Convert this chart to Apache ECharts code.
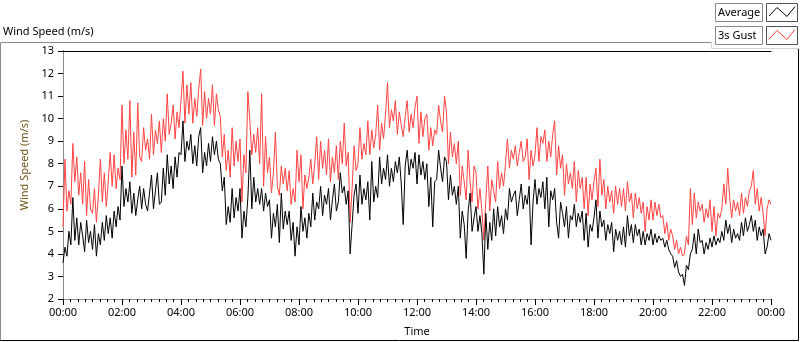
<!DOCTYPE html>
<html>
<head>
<meta charset="utf-8">
<title>Wind Speed</title>
<script src="https://cdn.jsdelivr.net/npm/echarts@6/dist/echarts.min.js"></script>
<style>
  html, body { margin: 0; padding: 0; background: #fff; }
  #chart { width: 800px; height: 342px; }
</style>
</head>
<body>
<div id="chart"></div>
<script>
// one sample every 4 minutes, from 00:00 to 24:00 (361 points)
var sampleStep = 4

// 1 min average wind speed (m/s), one row = 20 minutes
var avgSpeed = [
  3.6, 4.3, 3.9, 5.0, 4.4,
  6.5, 4.6, 5.6, 4.4, 5.4,
  4.8, 4.1, 5.5, 4.5, 5.0,
  4.2, 5.3, 3.9, 4.9, 4.4,
  5.4, 4.6, 5.7, 4.9, 5.6,
  4.7, 5.9, 5.2, 6.1, 5.5,
  7.9, 6.1, 6.9, 6.3, 7.2,
  5.8, 6.7, 5.7, 6.4, 7.0,
  6.0, 6.9, 6.2, 5.9, 6.7,
  7.5, 6.0, 6.8, 7.6, 6.2,
  6.3, 7.8, 6.6, 8.4, 7.1,
  7.9, 6.9, 8.3, 7.4, 8.5,
  8.4, 9.9, 8.1, 9.0, 8.6,
  9.3, 8.0, 8.8, 7.9, 9.2,
  9.6, 7.6, 8.5, 7.9, 8.9,
  8.1, 9.2, 8.4, 9.0, 8.2,
  8.0, 6.8, 7.4, 5.3, 6.1,
  5.4, 6.9, 5.6, 6.5, 5.9,
  6.9, 4.7, 5.9, 5.2, 6.5,
  8.6, 6.0, 7.4, 6.3, 6.9,
  6.2, 6.9, 5.9, 6.7, 6.1,
  6.4, 4.7, 5.8, 5.2, 6.2,
  4.5, 6.7, 5.1, 5.9, 5.3,
  5.9, 4.6, 5.4, 3.9, 5.2,
  4.4, 6.1, 5.0, 5.6, 4.7,
  5.8, 5.2, 6.7, 5.5, 6.3,
  6.0, 7.0, 5.7, 6.6, 6.2,
  6.9, 5.5, 6.4, 7.1, 5.9,
  6.3, 7.6, 6.7, 7.0, 6.2,
  6.8, 4.0, 5.3, 6.6, 7.1,
  5.8, 7.5, 6.2, 6.9, 6.4,
  7.2, 5.5, 8.1, 6.3, 7.0,
  6.5, 8.3, 7.1, 7.8, 7.3,
  8.4, 7.0, 7.8, 7.2, 8.1,
  7.6, 8.3, 7.1, 5.3, 7.9,
  8.6, 7.5, 8.2, 7.8, 8.5,
  7.1, 8.4, 7.5, 8.1, 7.3,
  8.0, 6.1, 7.4, 5.2, 7.2,
  7.3, 8.6, 7.8, 7.2, 8.3,
  8.1, 6.4, 7.5, 6.6, 7.0,
  6.2, 7.0, 4.7, 5.9, 5.3,
  3.8, 5.9, 6.7, 5.0, 5.6,
  6.1, 5.0, 5.7, 4.9, 3.1,
  5.8, 4.2, 5.4, 4.6, 6.0,
  4.8, 6.1, 5.2, 5.7, 4.9,
  6.0, 5.5, 6.9, 6.3, 6.6,
  6.8, 5.7, 6.4, 7.1, 6.0,
  6.6, 6.2, 7.0, 4.4, 6.3,
  7.3, 6.2, 6.9, 6.5, 7.2,
  6.0, 7.4, 5.2, 6.8, 6.4,
  6.9, 5.4, 4.7, 6.3, 5.8,
  5.2, 6.1, 4.7, 5.7, 5.5,
  6.2, 5.2, 5.8, 5.4, 5.9,
  4.6, 5.8, 4.3, 5.3, 5.0,
  5.6, 6.4, 4.7, 5.9, 5.2,
  5.5, 4.6, 5.3, 4.9, 5.4,
  4.1, 5.1, 4.6, 5.0, 4.4,
  5.2, 4.3, 5.7, 4.8, 5.3,
  4.5, 5.3, 4.8, 5.1, 4.4,
  5.0, 4.4, 4.9, 4.6, 5.1,
  4.4, 4.9, 4.5, 4.8, 4.6,
  4.7, 4.3, 4.6, 4.2, 4.0,
  3.9, 3.4, 3.7, 3.2, 3.0,
  3.1, 2.6, 3.5, 3.3, 4.0,
  4.2, 4.9, 4.0, 5.1, 4.5,
  4.6, 4.0, 4.5, 4.2, 4.7,
  4.3, 4.8, 4.4, 4.7, 4.5,
  5.0, 4.6, 5.5, 4.9, 5.3,
  4.5, 5.1, 4.7, 4.9, 4.6,
  5.4, 4.8, 5.6, 5.0, 5.3,
  5.7, 5.0, 5.5, 4.6, 5.2,
  4.8, 5.1, 4.0, 4.3, 4.9,
  4.6
]

// 3 s gust (m/s), same sampling
var gustSpeed = [
  5.2, 8.2, 5.9, 6.8, 6.2,
  8.9, 7.2, 8.3, 6.6, 7.6,
  6.2, 8.1, 5.7, 7.3, 6.0,
  5.8, 6.9, 5.4, 6.6, 8.2,
  6.3, 7.6, 6.1, 7.2, 8.5,
  7.0, 8.4, 6.9, 7.8, 7.3,
  10.6, 8.0, 9.5, 8.2, 10.8,
  7.4, 9.4, 7.5, 10.7, 8.3,
  8.1, 9.6, 8.6, 9.1, 8.2,
  10.2, 8.4, 9.5, 8.9, 9.9,
  8.5, 10.0, 9.0, 11.1, 9.3,
  9.8, 10.6, 9.1, 10.3, 9.6,
  10.8, 12.1, 9.8, 11.5, 10.2,
  11.6, 9.8, 10.9, 10.1, 11.3,
  12.2, 9.7, 11.2, 10.0, 10.9,
  10.2, 11.5, 9.7, 11.1, 10.4,
  10.1, 8.3, 9.3, 7.7, 8.6,
  7.4, 9.6, 7.9, 9.0, 8.1,
  9.1, 6.3, 8.4, 7.6, 11.2,
  9.9, 8.4, 9.3, 8.5, 9.6,
  8.0, 11.1, 7.0, 9.2, 7.6,
  8.3, 6.7, 7.6, 9.4, 7.0,
  6.6, 7.9, 7.1, 7.8, 6.8,
  7.7, 6.2, 6.9, 6.3, 8.6,
  7.2, 8.4, 6.0, 7.5, 6.9,
  7.4, 8.2, 7.1, 8.0, 9.2,
  7.3, 9.0, 7.8, 8.6, 7.5,
  9.1, 7.2, 8.3, 7.6, 8.8,
  7.3, 9.0, 8.0, 9.8, 7.9,
  8.5, 5.4, 6.9, 8.8, 7.7,
  8.0, 9.6, 8.2, 8.9, 8.4,
  9.9, 8.4, 9.5, 8.7, 9.3,
  10.6, 8.6, 9.8, 9.1, 10.2,
  11.6, 9.6, 10.4, 9.9, 10.8,
  9.3, 10.3, 9.7, 9.2, 10.1,
  10.8, 9.4, 10.2, 9.6, 10.5,
  11.0, 8.9, 10.3, 9.2, 10.0,
  10.2, 8.6, 9.6, 8.8, 9.5,
  9.3, 10.6, 9.9, 9.4, 11.0,
  10.3, 8.0, 9.4, 8.3, 8.9,
  8.0, 9.0, 6.6, 7.9, 7.2,
  6.4, 8.6, 7.2, 6.3, 7.9,
  7.6, 6.0, 6.9, 5.9, 4.6,
  6.4, 7.9, 5.9, 7.3, 6.8,
  6.3, 8.1, 6.9, 7.6, 7.0,
  8.0, 9.1, 7.8, 8.6, 8.2,
  8.8, 7.9, 8.5, 9.0, 8.1,
  8.3, 9.1, 7.3, 8.6, 7.9,
  8.4, 9.6, 8.1, 9.2, 8.9,
  9.5, 8.1, 9.0, 8.3, 9.3,
  9.9, 7.5, 8.8, 7.8, 8.4,
  6.6, 8.0, 7.1, 7.6, 6.9,
  8.1, 6.3, 7.7, 6.9, 7.4,
  6.0, 7.4, 5.7, 7.1, 6.4,
  7.2, 7.8, 6.1, 8.2, 6.6,
  7.3, 6.0, 7.0, 6.3, 6.8,
  5.8, 7.0, 6.2, 6.9, 6.1,
  6.9, 5.9, 7.2, 6.3, 6.7,
  5.6, 6.7, 6.0, 6.5, 5.8,
  6.3, 5.0, 6.1, 5.5, 6.4,
  5.5, 6.3, 5.7, 6.2, 5.6,
  5.7, 4.9, 5.4, 4.6, 5.1,
  4.8, 4.2, 4.6, 4.0, 4.3,
  3.9, 4.0, 4.8, 4.4, 6.9,
  5.3, 6.7, 5.6, 6.3, 5.9,
  6.2, 5.4, 6.0, 5.6, 6.4,
  5.0, 6.1, 4.8, 5.8, 5.6,
  6.0, 7.1, 6.2, 7.8, 6.5,
  5.6, 6.4, 5.9, 6.3, 5.7,
  6.7, 5.8, 6.5, 6.1, 6.8,
  7.0, 7.7, 6.2, 6.9, 5.9,
  6.5, 5.8, 4.8, 6.0, 6.4,
  6.2
]

var seriesNames = ['Average', '3s Gust']
var fontFamily = 'Noto Sans'

function withTime (values) {
  return values.map(function (v, i) { return [i * sampleStep, v] })
}

function timeLabel (min) {
  var h = Math.floor(min / 60) % 24
  return (h < 10 ? '0' : '') + h + ':00'
}

// little legend boxes top right (LabVIEW style plot legend)
function legendItem (y, label, color) {
  return [
    { type: 'rect', shape: { x: 715.5, y: y + 0.5, width: 47, height: 18 },
      style: { fill: '#fff', stroke: '#8a8a8a', lineWidth: 1 } },
    { type: 'text', x: 718, y: y + 10, style: { text: label, fontFamily: fontFamily, fontSize: 11, fill: '#000', verticalAlign: 'middle' } },
    { type: 'rect', shape: { x: 766.5, y: y + 0.5, width: 31, height: 18 },
      style: { fill: '#fff', stroke: '#505050', lineWidth: 1 } },
    { type: 'polyline', shape: { points: [[769, y + 13], [777, y + 4.5], [787, y + 13.5], [795, y + 3.5]] },
      style: { stroke: color, lineWidth: 1, fill: null } }
  ]
}

var chart = echarts.init(document.getElementById('chart'))
chart.setOption({
  animation: false,
  backgroundColor: '#fff',
  title: {
    text: 'Wind Speed (m/s)',
    left: 3,
    top: 26,
    padding: 0,
    textStyle: { fontFamily: fontFamily, fontSize: 11, fontWeight: 'normal', color: '#000' }
  },
  grid: { left: 63, right: 29, top: 51, bottom: 39 },
  xAxis: [
    {
      type: 'value',
      min: 0,
      max: 1440,
      interval: 120,
      name: 'Time',
      nameLocation: 'middle',
      nameGap: 27,
      nameTextStyle: { fontFamily: fontFamily, fontSize: 11, color: '#000' },
      axisLine: { lineStyle: { color: '#8c8c8c', width: 1 } },
      axisTick: { length: 6, lineStyle: { color: '#000' } },
      minorTick: { show: true, splitNumber: 8, length: 3, lineStyle: { color: '#000' } },
      axisLabel: { formatter: timeLabel, margin: 8, fontFamily: fontFamily, fontSize: 11, color: '#000' },
      splitLine: { show: false }
    },
    {
      type: 'value',
      position: 'top',
      min: 0,
      max: 1440,
      axisLine: { show: true, lineStyle: { color: '#000' } },
      axisTick: { show: false },
      axisLabel: { show: false },
      splitLine: { show: false }
    }
  ],
  yAxis: [
    {
      type: 'value',
      min: 2,
      max: 13,
      interval: 1,
      name: 'Wind Speed (m/s)',
      nameLocation: 'middle',
      nameRotate: 90,
      nameGap: 24,
      nameTextStyle: { fontFamily: fontFamily, fontSize: 11, color: '#6e5418', padding: [0, 0, 0, 20] },
      axisLine: { show: true, lineStyle: { color: '#000' } },
      axisTick: { show: true, length: 5, lineStyle: { color: '#000' } },
      axisLabel: { margin: 9, fontFamily: fontFamily, fontSize: 11, color: '#000' },
      splitLine: { show: false }
    },
    {
      type: 'value',
      position: 'right',
      min: 2,
      max: 13,
      axisLine: { show: true, lineStyle: { color: '#8c8c8c' } },
      axisTick: { show: false },
      axisLabel: { show: false },
      splitLine: { show: false }
    }
  ],
  series: [
    {
      name: seriesNames[1],
      type: 'line',
      data: withTime(gustSpeed),
      showSymbol: false,
      lineStyle: { color: '#ff4343', width: 1 },
      itemStyle: { color: '#ff4343' }
    },
    {
      name: seriesNames[0],
      type: 'line',
      data: withTime(avgSpeed),
      showSymbol: false,
      lineStyle: { color: '#000', width: 1 },
      itemStyle: { color: '#000' }
    }
  ],
  graphic: [
    // outer frame of the graph
    { type: 'polyline', shape: { points: [[0.5, 341], [0.5, 42.5], [711.5, 42.5]] }, style: { stroke: '#8a8a8a', lineWidth: 1, fill: null } },
    { type: 'polyline', shape: { points: [[0.5, 340.5], [798.5, 340.5], [798.5, 48.5]] }, style: { stroke: '#000', lineWidth: 1, fill: null } },
    { type: 'polyline', shape: { points: [[711.5, 42], [711.5, 48.5], [799.5, 48.5]] }, style: { stroke: '#d2d2d2', lineWidth: 1, fill: null } }
  ].concat(legendItem(3, seriesNames[0], '#000'), legendItem(26, seriesNames[1], '#ff4343'))
})
</script>
</body>
</html>
